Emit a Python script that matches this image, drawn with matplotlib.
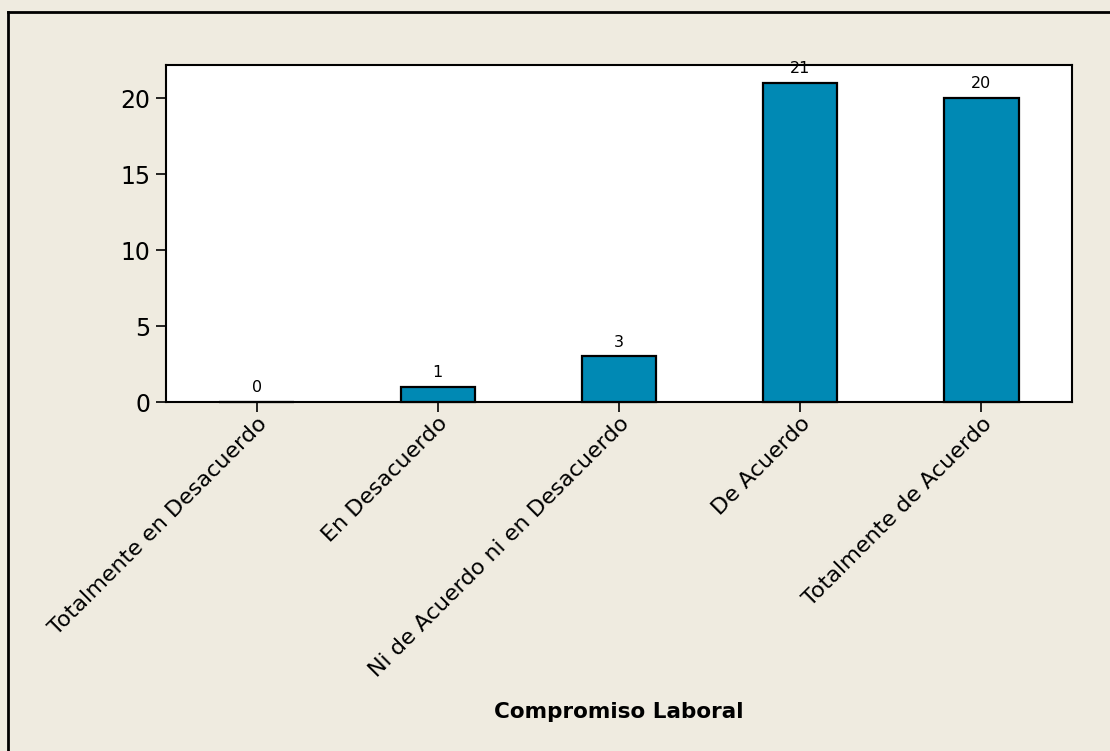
import matplotlib
matplotlib.use("Agg")
import matplotlib.pyplot as plt
from matplotlib.lines import Line2D

categories = ["Totalmente en Desacuerdo", "En Desacuerdo",
              "Ni de Acuerdo ni en Desacuerdo", "De Acuerdo",
              "Totalmente de Acuerdo"]
counts = [0, 1, 3, 21, 20]
yticks = [0, 5, 10, 15, 20]

bg = "#EFEBE0"
bar_color = "#0089B4"

plt.rcParams['font.family'] = ['DejaVu Sans']
fig = plt.figure(figsize=(11.10, 7.51), dpi=100, facecolor=bg)
ax = fig.add_axes([166/1110, 1-402/751, (1072-166)/1110, (402-65)/751])
ax.set_facecolor("white")

x = list(range(len(categories)))
bars = ax.bar(x, counts, width=0.41, color=bar_color, edgecolor="black",
              linewidth=1.6, zorder=3, clip_on=False)
for xi, c in zip(x, counts):
    ax.annotate(str(c), (xi, c), xytext=(0, 5), textcoords="offset points",
                ha="center", va="bottom", fontsize=11.5, annotation_clip=False)

ax.set_xlim(-0.5, 4.5)
ax.set_ylim(0, 22.2)
ax.set_yticks(yticks)
ax.set_xticks(x)
ax.set_xticklabels(categories, rotation=45, ha="right", rotation_mode="anchor", fontsize=16)
ax.tick_params(axis="y", labelsize=17, length=7, width=1.2, direction="out", pad=4)
ax.tick_params(axis="x", length=7, width=1.2, direction="out", pad=1)
for s in ax.spines.values():
    s.set_linewidth(1.5)
    s.set_color("black")
    s.set_zorder(2.5)

fig.text(619/1110, 1-712/751, "Compromiso Laboral", ha="center", va="center",
         fontsize=15.5, fontweight="bold")

# figure border (left and top)
fig.add_artist(Line2D([8/1110, 8/1110], [0, 1-12/751], transform=fig.transFigure, color="black", lw=2))
fig.add_artist(Line2D([8/1110, 1], [1-12/751, 1-12/751], transform=fig.transFigure, color="black", lw=2))

fig.savefig("out.png", dpi=100, facecolor=bg)
